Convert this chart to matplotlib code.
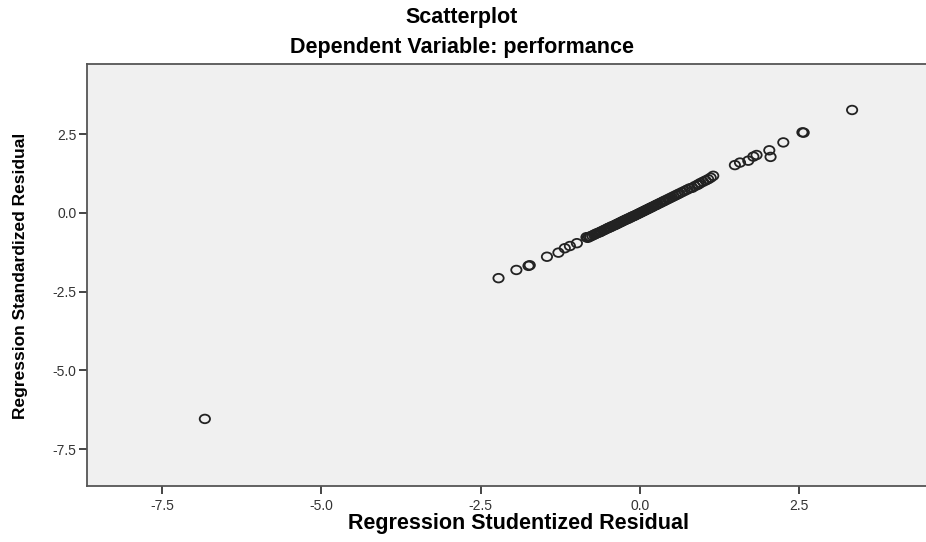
import matplotlib
matplotlib.use("Agg")
import matplotlib.pyplot as plt
from matplotlib.path import Path
from matplotlib.transforms import Affine2D

# studentized (x) vs standardized (y) residuals
studentized = [
    -6.83, -2.22, -1.94, -1.75, -1.73, -1.46, -1.28, -1.18, -1.10, -0.99,
    -0.84, -0.82, -0.80, -0.78, -0.75, -0.72, -0.70, -0.67, -0.64, -0.62,
    -0.60, -0.57, -0.55, -0.52, -0.50, -0.48, -0.46, -0.44, -0.41, -0.39,
    -0.37, -0.35, -0.33, -0.31, -0.29, -0.27, -0.25, -0.23, -0.21, -0.19,
    -0.17, -0.15, -0.13, -0.11, -0.09, -0.07, -0.05, -0.03, -0.01, 0.01,
    0.03, 0.05, 0.07, 0.09, 0.11, 0.13, 0.15, 0.17, 0.19, 0.21,
    0.24, 0.26, 0.28, 0.31, 0.33, 0.36, 0.38, 0.41, 0.44, 0.47,
    0.50, 0.53, 0.56, 0.59, 0.62, 0.66, 0.70, 0.74, 0.78, 0.82,
    0.86, 0.90, 0.92, 0.95, 0.99, 1.03, 1.07, 1.11, 1.15,
    1.49, 1.57, 1.70, 1.78, 1.83, 2.03, 2.05, 2.25, 2.55, 2.57, 3.33,
]
standardized = [
    -6.54, -2.07, -1.81, -1.68, -1.66, -1.39, -1.26, -1.12, -1.05, -0.96,
    -0.77, -0.79, -0.76, -0.75, -0.72, -0.69, -0.67, -0.64, -0.62, -0.60,
    -0.58, -0.55, -0.53, -0.50, -0.48, -0.46, -0.45, -0.42, -0.40, -0.38,
    -0.36, -0.34, -0.32, -0.30, -0.28, -0.26, -0.24, -0.22, -0.20, -0.19,
    -0.16, -0.15, -0.12, -0.11, -0.09, -0.07, -0.05, -0.03, -0.01, 0.01,
    0.03, 0.05, 0.07, 0.09, 0.11, 0.13, 0.15, 0.17, 0.19, 0.21,
    0.24, 0.26, 0.28, 0.31, 0.33, 0.36, 0.38, 0.41, 0.44, 0.47,
    0.50, 0.53, 0.56, 0.59, 0.62, 0.66, 0.70, 0.74, 0.78, 0.80,
    0.85, 0.89, 0.91, 0.95, 0.99, 1.03, 1.07, 1.12, 1.18,
    1.52, 1.60, 1.66, 1.79, 1.84, 1.99, 1.78, 2.24, 2.56, 2.55, 3.27,
]

x_ticks = [-7.5, -5.0, -2.5, 0.0, 2.5]
y_ticks = [2.5, 0.0, -2.5, -5.0, -7.5]

title = "Scatterplot"
subtitle = "Dependent Variable: performance"
x_label = "Regression Studentized Residual"
y_label = "Regression Standardized Residual"

plt.rcParams["font.family"] = ["Liberation Sans", "DejaVu Sans"]

# the source picture is a little stretched sideways, so are its circles
wide_circle = Path.unit_circle().transformed(Affine2D().scale(1.2, 1.0))

fig = plt.figure(figsize=(9.26, 5.42), dpi=100)
ax = fig.add_axes([87 / 926, 56 / 542, 1 - 87 / 926, (486 - 64) / 542])
ax.set_facecolor("#f0f0f0")

ax.scatter(studentized, standardized, s=55, marker=wide_circle,
           facecolors="none", edgecolors="#222222", linewidths=1.3)

ax.set_xlim(-8.68, 4.49)
ax.set_ylim(-8.67, 4.73)
ax.set_xticks(x_ticks)
ax.set_xticklabels([f"{v:.1f}" for v in x_ticks])
ax.set_yticks(y_ticks)
ax.set_yticklabels([f"{v:.1f}" for v in y_ticks])
ax.tick_params(direction="out", length=5.5, width=1.4, colors="#444444",
               labelsize=10, labelcolor="#333333", pad=2)
ax.tick_params(axis="x", pad=4)

for side in ("left", "bottom", "top"):
    ax.spines[side].set_color("#555555")
    ax.spines[side].set_linewidth(1.3)
ax.spines["right"].set_visible(False)

ax.set_xlabel(x_label, fontsize=15.5, fontweight="bold")
ax.xaxis.set_label_coords((518 - 87) / 839, (486 - 524) / 422)
ax.xaxis.label.set_va("center")
ax.set_ylabel(y_label, fontsize=12.5, fontweight="bold")
ax.yaxis.set_label_coords((21 - 87) / 839, (486 - 276) / 422)
ax.yaxis.label.set_va("center")

fig.text(462 / 926, 1 - 18 / 542, title, ha="center", va="center",
         fontsize=15.5, fontweight="bold")
fig.text(462 / 926, 1 - 47 / 542, subtitle, ha="center", va="center",
         fontsize=15.5, fontweight="bold")

fig.savefig("out.png", dpi=100)
